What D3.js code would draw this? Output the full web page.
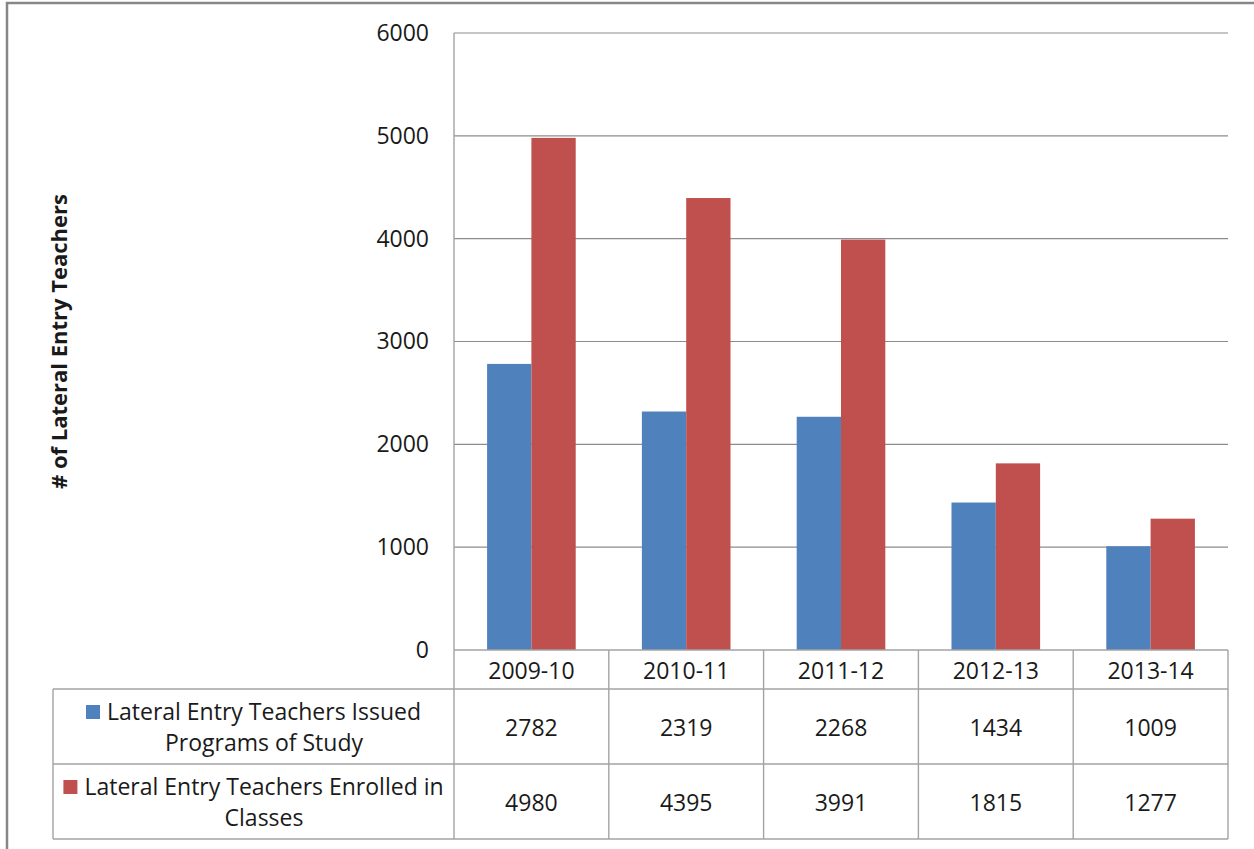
<!DOCTYPE html>
<html>
<head>
<meta charset="utf-8">
<script src="https://cdn.jsdelivr.net/npm/d3@7"></script>
<style>
  body { margin: 0; background: #fff; }
  text { font-family: "Open Sans", "Noto Sans", sans-serif; fill: #1a1a1a; }
</style>
</head>
<body>
<div id="chart"></div>
<script>
// chart values
const years = ["2009-10", "2010-11", "2011-12", "2012-13", "2013-14"];
const seriesNames = [
    "Lateral Entry Teachers Issued Programs of Study",
    "Lateral Entry Teachers Enrolled in Classes"
];
const issued = [2782, 2319, 2268, 1434, 1009];
const enrolled = [4980, 4395, 3991, 1815, 1277];
const yTicks = [0, 1000, 2000, 3000, 4000, 5000, 6000];
const legendLines = [
    ["Lateral Entry Teachers Issued", "Programs of Study"],
    ["Lateral Entry Teachers Enrolled in", "Classes"]
];
const colors = ["#4f81bd", "#c0504d"];

const width = 1254, height = 849;
const plot = { left: 454, right: 1228, top: 33, bottom: 650 };
const table = { left: 53, headerBottom: 689, rowBottoms: [764, 839] };
const fontSize = "23px";

const svg = d3.select("#chart").append("svg")
    .attr("width", width)
    .attr("height", height);

// outer chart border (top + left visible)
svg.append("path")
    .attr("d", `M7,${height + 5} V3 H${width + 5}`)
    .attr("fill", "none")
    .attr("stroke", "#878787")
    .attr("stroke-width", 2.5);

const y = d3.scaleLinear().domain([0, 6000]).range([plot.bottom, plot.top]);
const x0 = d3.scaleBand().domain(years).range([plot.left, plot.right]);
const x1 = d3.scaleBand().domain([0, 1]).range([0, x0.bandwidth()]).paddingOuter(0.747);

// gridlines
svg.append("g").selectAll("line")
    .data(yTicks.filter(d => d > 0))
    .enter().append("line")
    .attr("x1", plot.left).attr("x2", plot.right)
    .attr("y1", d => y(d)).attr("y2", d => y(d))
    .attr("stroke", "#8c8c8c")
    .attr("stroke-width", 1.2);

// y axis labels
const yAxis = d3.axisLeft(y).tickValues(yTicks).tickSize(0).tickPadding(25)
    .tickFormat(d3.format("d"));
const yg = svg.append("g")
    .attr("transform", `translate(${plot.left},0)`)
    .call(yAxis);
yg.select(".domain").remove();
yg.selectAll("text")
    .style("font-family", "'Open Sans', 'Noto Sans', sans-serif")
    .style("font-size", fontSize)
    .attr("fill", "#1a1a1a");

// bars
const rows = [issued, enrolled];
rows.forEach((vals, s) => {
    svg.append("g").selectAll("rect")
        .data(vals)
        .enter().append("rect")
        .attr("x", (d, i) => x0(years[i]) + x1(s))
        .attr("width", x1.bandwidth())
        .attr("y", d => y(d))
        .attr("height", d => plot.bottom - y(d))
        .attr("fill", colors[s]);
});

// y axis title
svg.append("text")
    .attr("transform", `translate(59,${(plot.top + plot.bottom) / 2}) rotate(-90)`)
    .attr("text-anchor", "middle")
    .attr("dy", "0.35em")
    .style("font-size", "22px")
    .style("font-weight", "bold")
    .text("# of Lateral Entry Teachers");

// data table lines
const lineColor = "#a3a3a3";
const tg = svg.append("g").attr("stroke", lineColor).attr("stroke-width", 1.4);
const tableBottom = table.rowBottoms[table.rowBottoms.length - 1];
// plot left edge runs down through the table
tg.append("line").attr("x1", plot.left).attr("x2", plot.left)
    .attr("y1", plot.top).attr("y2", tableBottom);
tg.append("line").attr("x1", plot.left).attr("x2", plot.right)
    .attr("y1", plot.bottom).attr("y2", plot.bottom);
[table.headerBottom].concat(table.rowBottoms).forEach(yy => {
    tg.append("line").attr("x1", table.left).attr("x2", plot.right)
        .attr("y1", yy).attr("y2", yy);
});
tg.append("line").attr("x1", table.left).attr("x2", table.left)
    .attr("y1", table.headerBottom).attr("y2", tableBottom);
years.forEach(yr => {
    const xx = x0(yr) + x0.bandwidth();
    tg.append("line").attr("x1", xx).attr("x2", xx)
        .attr("y1", plot.bottom).attr("y2", tableBottom);
});

// header row: categories
svg.append("g").selectAll("text")
    .data(years)
    .enter().append("text")
    .attr("x", d => x0(d) + x0.bandwidth() / 2)
    .attr("y", (plot.bottom + table.headerBottom) / 2 + 1)
    .attr("text-anchor", "middle")
    .attr("dy", "0.35em")
    .style("font-size", fontSize)
    .text(d => d);

// value rows + legend cells
const rowTops = [table.headerBottom].concat(table.rowBottoms.slice(0, -1));
rows.forEach((vals, s) => {
    const cy = (rowTops[s] + table.rowBottoms[s]) / 2 + 1;
    svg.append("g").selectAll("text")
        .data(vals)
        .enter().append("text")
        .attr("x", (d, i) => x0(years[i]) + x0.bandwidth() / 2)
        .attr("y", cy)
        .attr("text-anchor", "middle")
        .attr("dy", "0.35em")
        .style("font-size", fontSize)
        .text(d => d);

    const cellMid = (table.left + plot.left) / 2;
    const keySize = 14, keyGap = 7;
    const lg = svg.append("g");
    const texts = legendLines[s].map((t, k) => lg.append("text")
        .attr("y", cy + (k === 0 ? -15.5 : 15.5))
        .attr("dy", "0.35em")
        .attr("text-anchor", "middle")
        .style("font-size", fontSize)
        .text(t));
    const maxW = d3.max(texts, t => t.node().getComputedTextLength());
    const blockLeft = cellMid - (maxW + keySize + keyGap) / 2;
    const textMid = blockLeft + keySize + keyGap + maxW / 2;
    texts.forEach(t => t.attr("x", textMid));
    const firstW = texts[0].node().getComputedTextLength();
    lg.append("rect")
        .attr("x", textMid - firstW / 2 - keyGap - keySize)
        .attr("y", cy - 15.5 - keySize / 2)
        .attr("width", keySize)
        .attr("height", keySize)
        .attr("fill", colors[s]);
});
</script>
</body>
</html>
